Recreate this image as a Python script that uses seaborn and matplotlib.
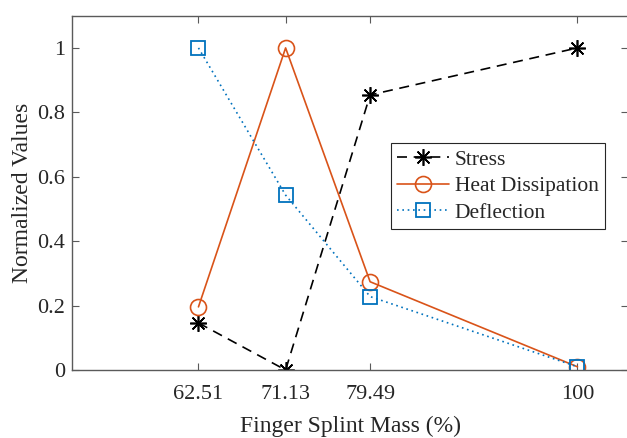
import matplotlib
matplotlib.use("Agg")
import matplotlib.pyplot as plt
import seaborn as sns

# values
mass = [62.51, 71.13, 79.49, 100]
stress = [0.146, 0.0, 0.854, 1.0]
heat = [0.196, 1.0, 0.274, 0.01]
deflection = [1.0, 0.543, 0.228, 0.01]
tick_labels = ['62.51', '71.13', '79.49', '100']

sns.set_style('ticks')
plt.rcParams['font.family'] = ['Liberation Serif', 'DejaVu Serif']

fig = plt.figure(figsize=(6.27, 4.38), dpi=100)
ax = fig.add_axes([72 / 627, 1 - 370 / 438, 556 / 627, (370 - 15.7) / 438])

blue = '#0072BD'
orange = '#D95319'

sns.lineplot(x=mass, y=stress, ax=ax, color='black', linestyle=(0, (6, 4)), lw=1.2,
             marker=(8, 2, 0), markersize=12, markeredgewidth=1.2, markeredgecolor='black',
             label='Stress')
sns.lineplot(x=mass, y=heat, ax=ax, color=orange, lw=1.2,
             marker='o', markersize=11.5, markerfacecolor='none', markeredgecolor=orange,
             markeredgewidth=1.2, label='Heat Dissipation')
sns.lineplot(x=mass, y=deflection, ax=ax, color=blue, linestyle=(0, (1, 2.2)), lw=1.2,
             marker='s', markersize=9.5, markerfacecolor='none', markeredgecolor=blue,
             markeredgewidth=1.3, label='Deflection')

ax.set_xlim(50, 105)
ax.set_ylim(0, 1.1)
ax.set_xticks(mass)
ax.set_xticklabels(tick_labels)
ax.set_yticks([0, 0.2, 0.4, 0.6, 0.8, 1])
ax.set_yticklabels(['0', '0.2', '0.4', '0.6', '0.8', '1'])

for s in ax.spines.values():
    s.set_color('#5a5a5a')
    s.set_linewidth(1.0)
ax.tick_params(direction='in', length=5, width=0.8, color='#5a5a5a',
               top=True, right=True, labelsize=16, labelcolor='#262626')
ax.tick_params(axis='x', pad=11)
ax.tick_params(axis='y', pad=5)

ax.set_xlabel('Finger Splint Mass (%)', fontsize=17, color='#262626', labelpad=8)
ax.set_ylabel('Normalized Values', fontsize=17, color='#262626', labelpad=3)

leg = ax.legend(loc='upper left', bbox_to_anchor=(391 / 627, 1 - 143 / 438),
                bbox_transform=fig.transFigure, fontsize=15.5, frameon=True,
                fancybox=False, edgecolor='#262626', framealpha=1,
                handlelength=2.4, handletextpad=0.25, borderpad=0.3, labelspacing=0.3,
                borderaxespad=0)
leg.get_frame().set_linewidth(0.8)

fig.savefig('out.png', dpi=100)
